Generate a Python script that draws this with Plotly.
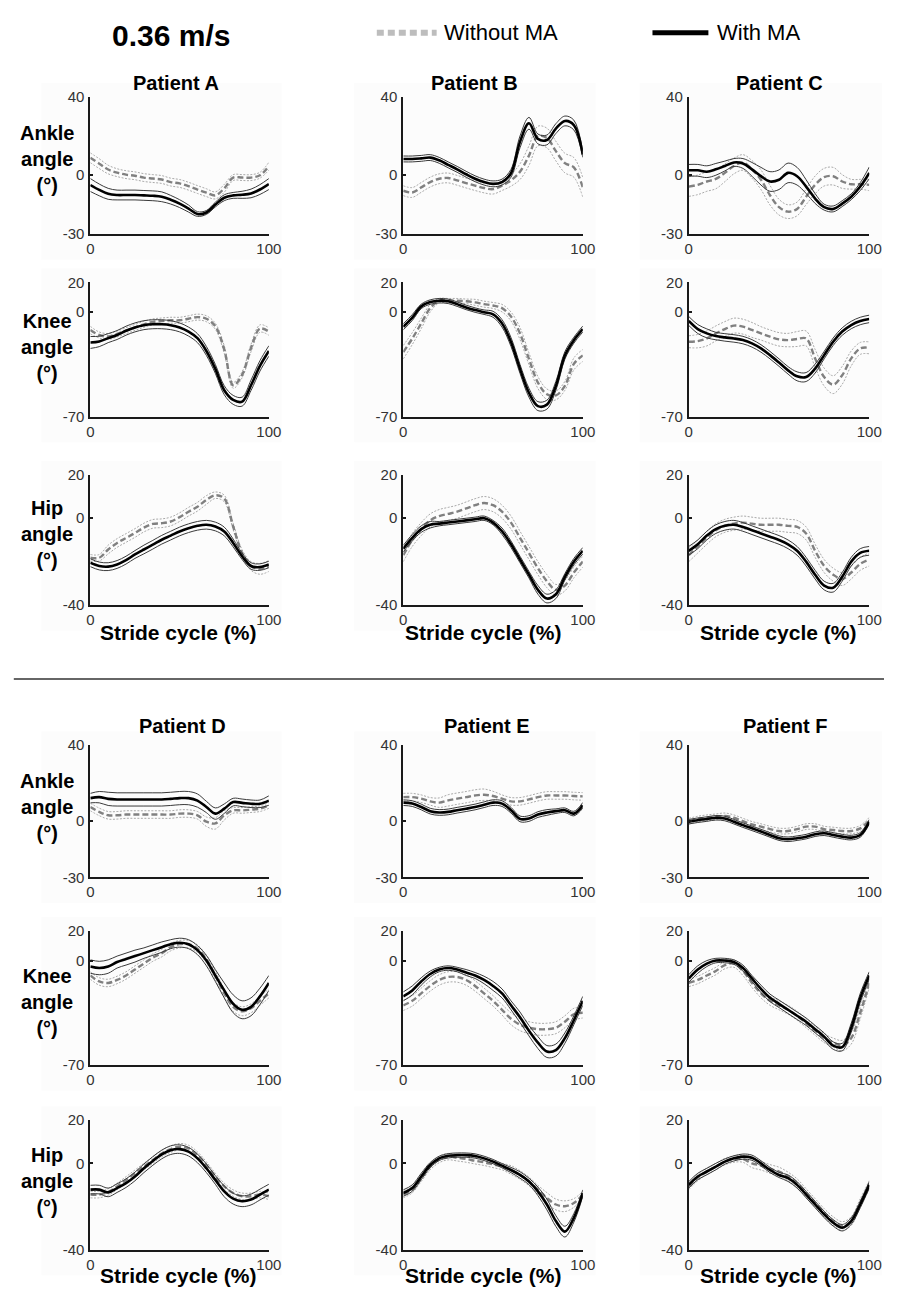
import plotly.graph_objects as go

FONT = "Liberation Sans, Arial, sans-serif"
W, H = 897, 1296

# Stride cycle sample points (%)
STRIDE = [0, 5, 10, 15, 20, 25, 30, 35, 40, 45, 50, 55, 60, 65, 70, 75, 80, 85, 90, 95, 100]

PATIENTS = ["A", "B", "C", "D", "E", "F"]
JOINTS = ["Ankle", "Knee", "Hip"]
Y_RANGES = {"Ankle": [-30, 40], "Knee": [-70, 20], "Hip": [-40, 20]}
Y_TICKS = {"Ankle": [-30, 0, 40], "Knee": [-70, 0, 20], "Hip": [-40, 0, 20]}
X_TICKS = [0, 100]

# ---------------- Patient A ----------------
A_ANKLE_WITHOUT = [8.9, 5.9, 2.9, 1.3, 0.3, -0.3, -1.2, -1.7, -2.2, -3.5, -4.2, -5.6, -7.3, -8.9, -10.3, -6.7, -1.2, -1.2, -1.2, 0.0, 4.6]
A_ANKLE_WITHOUT_SD = [2.5, 2.5, 2.2, 2.0, 2.0, 2.0, 2.0, 2.0, 2.0, 2.0, 2.0, 2.0, 2.0, 2.0, 1.8, 2.0, 1.5, 1.5, 1.5, 1.5, 2.0]
A_ANKLE_WITH = [-5.0, -7.5, -9.5, -10.1, -10.1, -10.1, -10.3, -10.5, -11.0, -12.5, -14.5, -17.0, -19.8, -19.0, -15.0, -11.5, -10.3, -10.0, -9.3, -7.3, -4.5]
A_ANKLE_WITH_SD = [3.3, 3.0, 2.8, 2.5, 2.5, 2.5, 2.5, 2.5, 2.5, 2.2, 2.0, 1.8, 1.2, 1.0, 1.2, 1.5, 1.5, 1.8, 2.2, 2.5, 2.8]

A_KNEE_WITHOUT = [-12.0, -15.3, -16.3, -14.6, -12.4, -10.2, -8.1, -6.5, -5.9, -5.4, -5.4, -4.4, -3.3, -4.4, -9.4, -25.0, -49.0, -42.0, -24.0, -11.0, -13.0]
A_KNEE_WITHOUT_SD = [2.5, 2.0, 2.0, 2.0, 2.0, 2.0, 2.0, 2.0, 2.0, 2.0, 2.0, 2.0, 2.0, 2.0, 2.0, 2.5, 2.0, 2.0, 2.5, 2.5, 2.5]
A_KNEE_WITH = [-20.3, -19.6, -17.4, -15.3, -12.4, -10.2, -8.7, -8.1, -8.1, -8.7, -10.2, -13.0, -17.4, -26.0, -38.0, -52.3, -58.8, -60.0, -49.0, -36.0, -26.0]
A_KNEE_WITH_SD = [4.0, 3.5, 3.0, 3.0, 3.0, 3.0, 3.0, 3.0, 3.0, 3.0, 3.0, 3.0, 3.0, 3.0, 3.0, 3.0, 3.0, 3.0, 3.5, 3.5, 3.5]

A_HIP_WITHOUT = [-18.2, -18.2, -14.4, -11.4, -9.1, -6.8, -4.3, -2.6, -2.3, -1.5, 0.5, 3.0, 5.3, 8.4, 10.6, 9.1, -3.8, -16.0, -22.0, -23.3, -22.0]
A_HIP_WITHOUT_SD = [1.5, 1.5, 2.0, 2.0, 2.0, 2.0, 2.0, 2.0, 2.0, 2.0, 2.0, 2.0, 2.0, 2.0, 1.5, 1.5, 1.5, 1.5, 2.0, 2.5, 2.5]
A_HIP_WITH = [-20.5, -22.0, -22.3, -21.3, -19.3, -16.7, -14.4, -12.2, -9.9, -8.0, -6.1, -4.6, -3.5, -3.0, -3.8, -6.1, -11.4, -17.5, -22.0, -22.5, -21.3]
A_HIP_WITH_SD = [1.8, 1.8, 1.8, 1.8, 1.8, 1.8, 2.0, 2.0, 2.0, 2.0, 2.0, 2.0, 2.0, 2.0, 2.0, 2.0, 1.8, 1.5, 1.5, 1.5, 1.5]

# ---------------- Patient B ----------------
B_ANKLE_WITHOUT = [-7.9, -8.8, -6.2, -3.5, -1.8, -1.4, -2.6, -4.0, -5.3, -6.5, -7.1, -5.3, -2.6, 1.8, 10.0, 20.0, 19.0, 12.3, 6.2, 4.0, -6.2]
B_ANKLE_WITHOUT_SD = [2.5, 2.5, 2.5, 2.5, 2.5, 2.5, 2.5, 2.5, 2.5, 2.5, 2.5, 2.5, 3.0, 4.0, 5.0, 5.0, 5.0, 5.0, 5.0, 5.0, 5.0]
B_ANKLE_WITH = [8.3, 8.3, 8.6, 9.0, 7.6, 5.3, 3.0, 0.5, -1.8, -3.5, -4.4, -3.5, 1.0, 17.0, 26.5, 18.5, 18.0, 23.8, 27.7, 25.6, 10.6]
B_ANKLE_WITH_SD = [1.5, 1.5, 1.5, 1.5, 1.5, 1.5, 1.5, 1.5, 1.5, 1.5, 1.5, 1.5, 2.0, 3.0, 3.0, 2.5, 2.5, 2.5, 2.5, 2.5, 1.5]

B_KNEE_WITHOUT = [-26.8, -17.7, -7.5, 2.7, 7.7, 7.7, 7.7, 7.3, 6.6, 5.4, 4.5, 2.7, -2.9, -14.3, -31.3, -47.2, -55.0, -55.8, -49.4, -34.7, -29.0]
B_KNEE_WITHOUT_SD = [4.5, 4.0, 3.5, 2.5, 1.5, 1.5, 1.5, 1.5, 2.0, 2.0, 2.0, 2.5, 3.0, 4.0, 4.0, 4.0, 3.5, 3.0, 3.0, 4.0, 4.0]
B_KNEE_WITH = [-9.8, -3.6, 3.9, 6.8, 7.7, 7.3, 5.4, 3.2, 1.4, 0.0, -1.4, -7.5, -20.0, -38.0, -54.0, -63.0, -62.0, -49.4, -29.0, -18.8, -11.3]
B_KNEE_WITH_SD = [2.0, 2.0, 1.5, 1.5, 1.5, 1.5, 1.5, 1.5, 1.5, 1.5, 2.0, 2.5, 3.0, 3.0, 3.0, 3.0, 3.0, 3.0, 2.5, 2.0, 2.0]

B_HIP_WITHOUT = [-17.0, -10.0, -5.0, -1.0, 1.0, 2.0, 3.0, 4.5, 6.0, 7.0, 6.0, 3.0, -2.0, -9.0, -16.0, -23.0, -29.0, -33.0, -31.0, -25.0, -20.0]
B_HIP_WITHOUT_SD = [3.0, 3.0, 3.0, 3.0, 3.0, 3.0, 3.0, 3.0, 3.0, 3.0, 3.0, 3.0, 3.0, 3.0, 3.0, 3.0, 3.0, 2.5, 2.5, 2.5, 2.5]
B_HIP_WITH = [-14.0, -9.0, -5.0, -3.0, -2.5, -2.0, -1.5, -1.0, -0.5, 0.0, -2.0, -6.0, -12.0, -19.0, -26.0, -33.0, -37.0, -35.0, -27.0, -20.0, -15.0]
B_HIP_WITH_SD = [1.5, 1.5, 1.5, 1.5, 1.0, 1.0, 1.0, 1.0, 1.0, 1.0, 1.0, 1.5, 1.5, 1.5, 1.5, 2.0, 2.0, 2.0, 1.5, 1.5, 1.5]

# ---------------- Patient C ----------------
C_ANKLE_WITHOUT = [-5.8, -4.9, -3.2, -1.9, 1.2, 4.7, 6.5, 3.0, -2.3, -10.2, -16.3, -18.6, -17.2, -11.0, -4.9, -1.0, -0.5, -3.2, -4.6, -4.6, -4.9]
C_ANKLE_WITHOUT_SD = [5.0, 5.0, 5.0, 5.0, 4.5, 4.0, 4.0, 4.5, 5.0, 5.0, 4.0, 3.5, 3.5, 4.0, 4.5, 4.5, 4.5, 3.5, 2.5, 2.5, 3.0]
C_ANKLE_WITH = [2.5, 2.5, 1.8, 3.0, 4.7, 6.5, 6.0, 3.0, -0.5, -3.2, -2.3, 1.2, -0.5, -5.8, -11.9, -16.3, -17.2, -14.5, -11.0, -5.8, 1.2]
C_ANKLE_WITH_SD = [3.0, 3.0, 3.0, 3.0, 2.5, 2.0, 2.5, 3.5, 4.5, 5.0, 5.0, 5.0, 4.5, 3.5, 2.5, 1.5, 1.5, 1.5, 1.5, 2.0, 3.0]

C_KNEE_WITHOUT = [-19.8, -19.4, -17.6, -14.2, -11.3, -9.0, -9.7, -11.9, -14.2, -16.4, -18.2, -18.7, -18.0, -17.6, -31.0, -43.5, -48.6, -42.3, -31.0, -24.3, -23.9]
C_KNEE_WITHOUT_SD = [4.0, 4.5, 5.0, 5.0, 5.0, 5.0, 5.0, 5.0, 4.5, 4.5, 4.5, 4.5, 5.0, 5.0, 6.0, 6.0, 6.0, 6.0, 5.0, 4.0, 4.0]
C_KNEE_WITH = [-5.9, -11.3, -14.2, -16.0, -16.9, -17.6, -18.7, -20.9, -24.3, -28.8, -33.8, -39.0, -43.0, -43.5, -37.8, -28.8, -19.8, -13.0, -8.6, -5.9, -4.5]
C_KNEE_WITH_SD = [3.0, 3.0, 3.0, 2.5, 2.5, 2.5, 2.5, 2.5, 2.5, 2.5, 2.5, 2.5, 3.0, 3.0, 3.0, 2.5, 2.5, 2.5, 2.5, 2.5, 2.5]

C_HIP_WITHOUT = [-17.0, -13.0, -9.0, -5.5, -3.5, -2.5, -2.0, -2.5, -3.0, -3.0, -3.0, -3.5, -4.0, -7.0, -15.0, -22.0, -26.0, -28.0, -25.0, -21.0, -19.0]
C_HIP_WITHOUT_SD = [3.0, 3.0, 3.0, 3.0, 3.0, 3.0, 3.0, 3.0, 3.0, 3.0, 3.0, 3.0, 3.0, 3.0, 3.0, 3.0, 3.0, 3.0, 3.0, 3.0, 3.0]
C_HIP_WITH = [-15.0, -12.0, -8.0, -5.0, -3.5, -3.0, -4.0, -5.5, -7.0, -8.5, -10.0, -12.0, -15.0, -20.0, -26.0, -31.0, -32.0, -27.0, -20.0, -16.0, -15.0]
C_HIP_WITH_SD = [2.0, 2.0, 2.0, 2.0, 2.0, 2.0, 2.0, 2.0, 2.0, 2.0, 2.0, 2.0, 2.0, 2.0, 2.0, 2.0, 2.0, 2.0, 2.0, 2.0, 2.0]

# ---------------- Patient D ----------------
D_ANKLE_WITHOUT = [7.3, 4.7, 2.9, 2.9, 3.3, 3.3, 3.3, 3.3, 3.3, 3.3, 3.8, 3.8, 2.9, -0.5, -1.4, 2.9, 5.5, 5.5, 5.9, 6.4, 8.1]
D_ANKLE_WITHOUT_SD = [2.0, 2.0, 2.0, 2.0, 2.0, 2.0, 2.0, 2.0, 2.0, 2.0, 2.0, 2.0, 2.0, 2.5, 3.0, 2.5, 1.5, 1.5, 1.5, 1.5, 1.5]
D_ANKLE_WITH = [12.0, 12.5, 11.6, 11.3, 11.3, 11.3, 11.3, 11.3, 11.3, 11.6, 12.0, 12.0, 10.7, 7.3, 3.8, 6.4, 9.9, 9.5, 9.0, 9.0, 10.7]
D_ANKLE_WITH_SD = [2.5, 3.0, 3.5, 3.5, 3.5, 3.5, 3.5, 3.5, 3.5, 3.5, 3.5, 3.5, 3.5, 3.0, 3.0, 2.5, 2.0, 2.0, 2.0, 2.0, 2.5]

D_KNEE_WITHOUT = [-10.0, -14.0, -15.0, -13.0, -10.0, -6.0, -2.0, 2.0, 5.0, 9.0, 11.0, 11.0, 8.0, 1.0, -10.0, -22.0, -31.0, -34.0, -32.0, -27.0, -22.0]
D_KNEE_WITHOUT_SD = [2.5, 2.5, 2.5, 2.5, 2.5, 2.5, 2.5, 2.5, 2.5, 2.5, 2.5, 2.5, 2.5, 2.5, 3.0, 3.0, 3.0, 3.0, 3.0, 3.0, 3.0]
D_KNEE_WITH = [-4.0, -5.0, -4.0, -1.0, 1.0, 3.0, 5.0, 7.0, 9.0, 11.0, 12.0, 11.0, 7.0, 0.0, -10.0, -20.0, -29.0, -33.0, -31.0, -24.0, -15.0]
D_KNEE_WITH_SD = [4.5, 4.5, 4.5, 4.0, 4.0, 4.0, 3.5, 3.5, 3.5, 3.0, 3.0, 3.0, 3.0, 3.5, 4.0, 5.0, 6.0, 6.0, 6.0, 5.5, 5.0]

D_HIP_WITHOUT = [-14.5, -14.5, -13.3, -10.7, -7.7, -4.6, -1.5, 1.5, 4.6, 6.6, 7.7, 6.9, 3.8, -0.8, -6.1, -10.7, -13.8, -15.3, -15.3, -14.5, -15.3]
D_HIP_WITHOUT_SD = [1.5, 1.5, 1.5, 1.5, 1.5, 1.5, 1.5, 1.5, 1.5, 1.5, 1.5, 1.5, 1.5, 1.5, 1.5, 1.5, 1.5, 1.5, 1.5, 1.5, 1.5]
D_HIP_WITH = [-12.2, -12.2, -13.5, -11.5, -9.2, -6.1, -2.3, 1.1, 4.1, 6.1, 6.6, 5.4, 2.3, -2.3, -7.7, -13.0, -16.4, -17.6, -16.8, -14.5, -12.2]
D_HIP_WITH_SD = [2.0, 2.0, 2.0, 2.0, 2.0, 2.0, 2.0, 2.0, 2.0, 2.0, 2.0, 2.0, 2.0, 2.0, 2.0, 2.5, 2.5, 2.5, 2.5, 2.5, 2.5]

# ---------------- Patient E ----------------
E_ANKLE_WITHOUT = [12.5, 12.5, 11.7, 10.3, 9.6, 10.8, 11.7, 12.5, 13.4, 13.8, 13.1, 11.7, 10.3, 10.3, 11.3, 12.5, 13.4, 13.4, 13.4, 13.1, 12.9]
E_ANKLE_WITHOUT_SD = [2.0, 2.0, 2.0, 2.0, 2.5, 3.0, 3.0, 3.0, 3.0, 3.0, 2.5, 2.0, 2.0, 2.0, 2.0, 2.0, 2.0, 2.0, 2.0, 2.0, 2.0]
E_ANKLE_WITH = [9.6, 9.1, 7.3, 5.1, 4.4, 4.7, 5.6, 6.4, 7.3, 8.5, 9.6, 9.1, 5.6, 1.0, 1.2, 3.3, 4.4, 5.1, 5.6, 3.8, 8.2]
E_ANKLE_WITH_SD = [1.5, 1.5, 1.5, 1.5, 1.5, 1.5, 1.5, 1.5, 1.5, 1.5, 1.5, 1.5, 1.5, 1.5, 1.5, 1.5, 1.5, 1.2, 1.2, 1.2, 1.5]

E_KNEE_WITHOUT = [-30.0, -27.0, -22.0, -17.0, -13.0, -11.0, -11.0, -13.0, -17.0, -22.0, -27.0, -33.0, -39.0, -43.0, -45.0, -46.0, -46.0, -45.0, -41.0, -36.0, -35.0]
E_KNEE_WITHOUT_SD = [3.5, 3.5, 3.5, 3.5, 3.5, 3.5, 3.5, 3.5, 3.5, 3.5, 3.5, 3.5, 4.0, 4.0, 4.0, 4.0, 4.0, 4.0, 4.0, 4.0, 3.5]
E_KNEE_WITH = [-24.0, -20.0, -14.0, -9.0, -6.0, -5.0, -6.0, -8.0, -10.0, -13.0, -17.0, -22.0, -30.0, -38.0, -47.0, -55.0, -61.0, -60.0, -52.0, -40.0, -27.0]
E_KNEE_WITH_SD = [3.0, 3.0, 2.5, 2.0, 1.5, 1.5, 1.5, 2.0, 2.0, 2.5, 3.0, 3.0, 3.0, 3.5, 3.5, 4.0, 4.0, 4.0, 3.5, 3.0, 3.0]

E_HIP_WITHOUT = [-14.5, -12.2, -6.9, -1.5, 1.8, 3.1, 2.6, 2.0, 1.2, 0.5, -0.5, -1.5, -3.1, -5.4, -8.4, -12.2, -16.1, -19.1, -19.9, -18.4, -14.5]
E_HIP_WITHOUT_SD = [1.5, 1.5, 1.5, 1.5, 1.5, 1.5, 1.5, 1.5, 1.5, 1.5, 1.5, 1.5, 2.0, 2.0, 2.0, 2.0, 2.5, 2.5, 2.5, 2.0, 1.5]
E_HIP_WITH = [-13.8, -11.5, -6.1, -0.8, 2.3, 3.5, 3.8, 3.8, 3.4, 2.3, 0.8, -1.1, -3.1, -5.4, -8.4, -13.0, -19.1, -26.8, -31.7, -25.3, -13.8]
E_HIP_WITH_SD = [1.5, 1.5, 1.5, 1.2, 1.0, 1.0, 1.0, 1.0, 1.0, 1.0, 1.0, 1.0, 1.2, 1.5, 1.5, 2.0, 2.5, 2.5, 2.5, 2.0, 1.5]

# ---------------- Patient F ----------------
F_ANKLE_WITHOUT = [-0.2, 0.9, 1.6, 2.1, 2.6, 1.6, -0.2, -1.9, -3.1, -4.4, -5.4, -5.4, -4.4, -3.1, -3.1, -4.4, -4.9, -5.4, -5.4, -4.0, 0.3]
F_ANKLE_WITHOUT_SD = [1.5, 1.5, 1.5, 1.5, 1.5, 1.5, 1.5, 1.5, 1.5, 1.5, 1.5, 1.5, 1.5, 1.5, 1.5, 1.5, 1.5, 1.5, 1.5, 1.5, 1.5]
F_ANKLE_WITH = [-0.5, 0.3, 0.9, 1.6, 1.2, -0.5, -2.3, -4.0, -5.7, -7.5, -9.2, -9.8, -9.2, -8.4, -7.1, -6.6, -7.5, -8.4, -8.9, -7.5, -0.5]
F_ANKLE_WITH_SD = [1.2, 1.2, 1.2, 1.2, 1.2, 1.2, 1.2, 1.2, 1.2, 1.2, 1.2, 1.2, 1.2, 1.2, 1.2, 1.2, 1.2, 1.2, 1.2, 1.2, 1.2]

F_KNEE_WITHOUT = [-15.0, -13.0, -10.0, -7.0, -3.0, -2.0, -7.0, -15.0, -22.0, -27.0, -30.0, -33.0, -37.0, -42.0, -47.0, -52.0, -55.0, -57.0, -52.0, -35.0, -15.0]
F_KNEE_WITHOUT_SD = [2.5, 2.5, 2.5, 2.5, 2.5, 2.5, 3.0, 3.0, 3.0, 3.0, 3.0, 3.0, 3.0, 3.0, 3.0, 3.0, 3.0, 3.5, 4.0, 4.0, 3.0]
F_KNEE_WITH = [-12.0, -6.0, -2.0, 0.0, 0.0, -1.0, -5.0, -12.0, -19.0, -25.0, -29.0, -33.0, -37.0, -41.0, -46.0, -51.0, -57.0, -58.0, -45.0, -25.0, -10.0]
F_KNEE_WITH_SD = [2.5, 2.5, 2.0, 1.5, 1.5, 1.5, 2.0, 2.0, 2.5, 2.5, 2.5, 2.5, 2.5, 2.5, 2.5, 2.5, 2.5, 2.5, 3.0, 3.0, 2.5]

F_HIP_WITHOUT = [-10.7, -6.6, -3.8, -1.5, 0.8, 2.0, 2.0, 0.0, -1.1, -2.6, -3.8, -6.1, -9.2, -13.8, -18.4, -23.0, -26.8, -29.1, -26.8, -18.4, -10.0]
F_HIP_WITHOUT_SD = [1.5, 1.5, 1.5, 1.5, 1.5, 1.5, 1.5, 2.0, 2.0, 2.0, 2.0, 2.0, 2.0, 2.0, 2.0, 2.0, 2.0, 2.0, 2.0, 2.0, 2.0]
F_HIP_WITH = [-10.0, -6.1, -3.8, -1.5, 0.8, 2.3, 3.1, 2.6, 0.0, -3.1, -5.4, -6.9, -10.0, -14.5, -19.1, -23.7, -27.6, -29.9, -26.8, -19.1, -10.0]
F_HIP_WITH_SD = [1.5, 1.5, 1.5, 1.5, 1.2, 1.2, 1.2, 1.2, 1.2, 1.2, 1.2, 1.5, 1.5, 1.5, 1.5, 1.5, 1.5, 1.5, 1.5, 1.5, 1.5]

SERIES = {
    ("A", "Ankle"): (A_ANKLE_WITHOUT, A_ANKLE_WITHOUT_SD, A_ANKLE_WITH, A_ANKLE_WITH_SD),
    ("A", "Knee"): (A_KNEE_WITHOUT, A_KNEE_WITHOUT_SD, A_KNEE_WITH, A_KNEE_WITH_SD),
    ("A", "Hip"): (A_HIP_WITHOUT, A_HIP_WITHOUT_SD, A_HIP_WITH, A_HIP_WITH_SD),
    ("B", "Ankle"): (B_ANKLE_WITHOUT, B_ANKLE_WITHOUT_SD, B_ANKLE_WITH, B_ANKLE_WITH_SD),
    ("B", "Knee"): (B_KNEE_WITHOUT, B_KNEE_WITHOUT_SD, B_KNEE_WITH, B_KNEE_WITH_SD),
    ("B", "Hip"): (B_HIP_WITHOUT, B_HIP_WITHOUT_SD, B_HIP_WITH, B_HIP_WITH_SD),
    ("C", "Ankle"): (C_ANKLE_WITHOUT, C_ANKLE_WITHOUT_SD, C_ANKLE_WITH, C_ANKLE_WITH_SD),
    ("C", "Knee"): (C_KNEE_WITHOUT, C_KNEE_WITHOUT_SD, C_KNEE_WITH, C_KNEE_WITH_SD),
    ("C", "Hip"): (C_HIP_WITHOUT, C_HIP_WITHOUT_SD, C_HIP_WITH, C_HIP_WITH_SD),
    ("D", "Ankle"): (D_ANKLE_WITHOUT, D_ANKLE_WITHOUT_SD, D_ANKLE_WITH, D_ANKLE_WITH_SD),
    ("D", "Knee"): (D_KNEE_WITHOUT, D_KNEE_WITHOUT_SD, D_KNEE_WITH, D_KNEE_WITH_SD),
    ("D", "Hip"): (D_HIP_WITHOUT, D_HIP_WITHOUT_SD, D_HIP_WITH, D_HIP_WITH_SD),
    ("E", "Ankle"): (E_ANKLE_WITHOUT, E_ANKLE_WITHOUT_SD, E_ANKLE_WITH, E_ANKLE_WITH_SD),
    ("E", "Knee"): (E_KNEE_WITHOUT, E_KNEE_WITHOUT_SD, E_KNEE_WITH, E_KNEE_WITH_SD),
    ("E", "Hip"): (E_HIP_WITHOUT, E_HIP_WITHOUT_SD, E_HIP_WITH, E_HIP_WITH_SD),
    ("F", "Ankle"): (F_ANKLE_WITHOUT, F_ANKLE_WITHOUT_SD, F_ANKLE_WITH, F_ANKLE_WITH_SD),
    ("F", "Knee"): (F_KNEE_WITHOUT, F_KNEE_WITHOUT_SD, F_KNEE_WITH, F_KNEE_WITH_SD),
    ("F", "Hip"): (F_HIP_WITHOUT, F_HIP_WITHOUT_SD, F_HIP_WITH, F_HIP_WITH_SD),
}

# Pixel layout of the plot areas (left, right) per column and (top, bottom) per row
COL_PX = [(88, 270), (407, 590), (698, 882)]
ROW_PX = [
    [(89, 228), (277, 413), (472, 604)],
    [(746, 880), (934, 1070), (1126, 1257)],
]
TITLE_PX = [[(175, 75), (480, 75), (790, 75)], [(182, 727), (492, 727), (796, 727)]]
ROWLABEL_Y = [[152, 342, 532], [809, 1006, 1188]]
XLABEL_Y = [632, 1283]
XLABEL_X = [177, 488, 789]


def px(x):
    return x / W


def py(y):
    return 1 - y / H


fig = go.Figure()
layout = dict(
    width=W, height=H, margin=dict(l=0, r=0, t=0, b=0),
    paper_bgcolor="white", plot_bgcolor="rgba(0,0,0,0)",
    showlegend=False, font=dict(family=FONT, color="#111"),
)
shapes = []
annotations = []

GRAY_SD = dict(color="#a9a9a9", width=1, dash="2px,1.5px", shape="spline", smoothing=1.0)
GRAY_MEAN = dict(color="#808080", width=2.4, dash="6px,3px", shape="spline", smoothing=1.0)
BLACK_SD = dict(color="#3a3a3a", width=1, shape="spline", smoothing=1.0)
BLACK_MEAN = dict(color="#000000", width=2.6, shape="spline", smoothing=1.0)

n = 0
for half in range(2):
    for col in range(3):
        patient = PATIENTS[half * 3 + col]
        for row, joint in enumerate(JOINTS):
            n += 1
            xa = "x" if n == 1 else f"x{n}"
            ya = "y" if n == 1 else f"y{n}"
            left, right = COL_PX[col]
            top, bottom = ROW_PX[half][row]

            # faint panel backdrop
            shapes.append(dict(type="rect", xref="paper", yref="paper",
                               x0=px(left - 50), x1=px(right + 13),
                               y0=py(bottom + 26), y1=py(top - 14),
                               fillcolor="#fcfcfc", line=dict(width=0), layer="below"))

            wo, wo_sd, wi, wi_sd = SERIES[(patient, joint)]
            wo_hi = [m + s for m, s in zip(wo, wo_sd)]
            wo_lo = [m - s for m, s in zip(wo, wo_sd)]
            wi_hi = [m + s for m, s in zip(wi, wi_sd)]
            wi_lo = [m - s for m, s in zip(wi, wi_sd)]

            for ys, style in ((wo_hi, GRAY_SD), (wo_lo, GRAY_SD), (wo, GRAY_MEAN),
                              (wi_hi, BLACK_SD), (wi_lo, BLACK_SD), (wi, BLACK_MEAN)):
                fig.add_trace(go.Scatter(x=STRIDE, y=ys, mode="lines", line=style,
                                         xaxis=xa, yaxis=ya, hoverinfo="skip"))

            axis_common = dict(showline=True, linecolor="#1a1a1a", linewidth=2,
                               ticks="inside", ticklen=3, tickwidth=1.5, tickcolor="#1a1a1a",
                               showgrid=False, zeroline=False, fixedrange=True,
                               tickfont=dict(family=FONT, size=15, color="#333"))
            layout["xaxis" if n == 1 else f"xaxis{n}"] = dict(
                axis_common, domain=[px(left), px(right)], range=[0, 100],
                tickvals=X_TICKS, ticktext=[str(v) for v in X_TICKS],
                anchor=ya)
            layout["yaxis" if n == 1 else f"yaxis{n}"] = dict(
                axis_common, domain=[py(bottom), py(top)], range=Y_RANGES[joint],
                tickvals=Y_TICKS[joint], ticktext=[str(v) for v in Y_TICKS[joint]],
                anchor=xa, ticklabelstandoff=1)

        tx, ty = TITLE_PX[half][col]
        annotations.append(dict(text=f"<b>Patient {patient}</b>", x=px(tx), y=py(ty),
                                xref="paper", yref="paper", showarrow=False,
                                xanchor="center", yanchor="middle",
                                font=dict(family=FONT, size=20, color="#000")))
        annotations.append(dict(text="<b>Stride cycle (%)</b>", x=px(XLABEL_X[col]),
                                y=py(XLABEL_Y[half]), xref="paper", yref="paper",
                                showarrow=False, xanchor="center", yanchor="middle",
                                font=dict(family=FONT, size=21, color="#000")))

    for row, joint in enumerate(JOINTS):
        annotations.append(dict(text=f"<b>{joint}<br>angle<br>(°)</b>", x=px(44),
                                y=py(ROWLABEL_Y[half][row]), xref="paper", yref="paper",
                                showarrow=False, xanchor="center", yanchor="middle",
                                align="center",
                                font=dict(family=FONT, size=20, color="#000")))

# Speed heading
annotations.append(dict(text="<b>0.36 m/s</b>", x=px(170), y=py(27), xref="paper",
                        yref="paper", showarrow=False, xanchor="center", yanchor="middle",
                        font=dict(family=FONT, size=30, color="#000")))

# Legend keys
shapes.append(dict(type="line", xref="paper", yref="paper", x0=px(380), x1=px(441),
                   y0=py(24), y1=py(24), line=dict(color="#bdbdbd", width=6, dash="7px,4px")))
annotations.append(dict(text="Without MA", x=px(446), y=py(24), xref="paper", yref="paper",
                        showarrow=False, xanchor="left", yanchor="middle",
                        font=dict(family=FONT, size=22, color="#000")))
shapes.append(dict(type="line", xref="paper", yref="paper", x0=px(661), x1=px(718),
                   y0=py(24), y1=py(24), line=dict(color="#000", width=5)))
annotations.append(dict(text="With MA", x=px(725), y=py(24), xref="paper", yref="paper",
                        showarrow=False, xanchor="left", yanchor="middle",
                        font=dict(family=FONT, size=22, color="#000")))

# Divider between the two patient groups
shapes.append(dict(type="line", xref="paper", yref="paper", x0=px(10), x1=px(897),
                   y0=py(679), y1=py(679), line=dict(color="#333", width=1.5)))

layout["shapes"] = shapes
layout["annotations"] = annotations
fig.update_layout(**layout)
fig.write_html("out.html")
